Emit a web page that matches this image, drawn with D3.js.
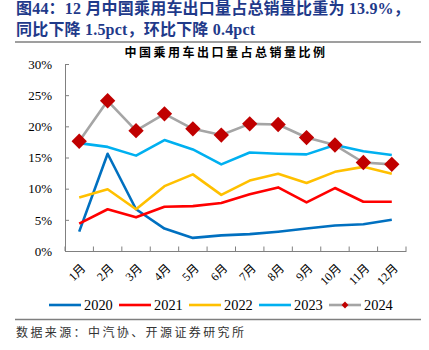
<!DOCTYPE html>
<html><head><meta charset="utf-8">
<script src="https://cdn.jsdelivr.net/npm/d3@7/dist/d3.min.js"></script>
<style>
html,body{margin:0;padding:0;background:#fff;}
svg{display:block;}
</style></head>
<body>
<svg id="c" width="429" height="350"></svg>
<script>
const months = ["1月","2月","3月","4月","5月","6月","7月","8月","9月","10月","11月","12月"];
const yTicks = [0,5,10,15,20,25,30];
const s2020 = [3.1,15.6,6.7,3.6,2.1,2.5,2.7,3.1,3.6,4.1,4.3,5.0];
const s2021 = [4.4,6.7,5.4,7.1,7.2,7.7,9.1,10.2,7.8,10.1,7.9,7.9];
const s2022 = [8.6,9.9,6.7,10.4,12.3,9.0,11.3,12.4,10.9,12.7,13.5,12.4];
const s2023 = [17.3,16.7,15.3,17.8,16.3,13.9,15.8,15.6,15.5,17.0,16.0,15.4];
const s2024 = [17.6,24.1,19.3,22.0,19.6,18.6,20.4,20.3,18.2,17.0,14.2,13.9];
const seriesNames = ["2020","2021","2022","2023","2024"];
const colors = ["#0070C0","#FF0000","#FFC000","#00B0F0","#A5A5A5"];
const markerColor = "#C00000";

const serif = "'Liberation Serif','Times New Roman','Noto Sans CJK SC',serif";
const svg = d3.select("#c");
const titleColor = "#1F3A8A";

// Title
svg.append("text").attr("x",16).attr("y",14).attr("fill",titleColor)
  .attr("font-family",serif).attr("font-weight","bold").attr("font-size",16)
  .attr("letter-spacing",0.2)
  .text("图44：12 月中国乘用车出口量占总销量比重为 13.9%，");
svg.append("text").attr("x",16).attr("y",35).attr("fill",titleColor)
  .attr("font-family",serif).attr("font-weight","bold").attr("font-size",16)
  .attr("letter-spacing",0.2)
  .text("同比下降 1.5pct，环比下降 0.4pct");
svg.append("line").attr("x1",15).attr("x2",421).attr("y1",42).attr("y2",42)
  .attr("stroke","#7f7f7f").attr("stroke-width",1.6);

// Chart title
svg.append("text").attr("x",226).attr("y",57).attr("text-anchor","middle")
  .attr("font-family",serif).attr("font-size",12).attr("font-weight","bold")
  .attr("letter-spacing",2.5).attr("fill","#000")
  .text("中国乘用车出口量占总销量比例");

const x = d3.scaleBand().domain(months).range([65,406]);
const y = d3.scaleLinear().domain([0,30]).range([251,64]);

// Y axis
const ya = svg.append("g").attr("transform","translate(65,0)")
  .call(d3.axisLeft(y).tickValues(yTicks).tickSize(-4).tickPadding(13).tickFormat(d=>d+"%"));
ya.select(".domain").attr("stroke","#808080");
ya.selectAll(".tick line").attr("stroke","#808080");
ya.selectAll(".tick text").attr("font-family",serif).attr("font-size",13).attr("fill","#000");

// X axis
const xa = svg.append("g").attr("transform","translate(0,251)")
  .call(d3.axisBottom(x).tickSize(0).tickFormat(""));
xa.select(".domain").attr("stroke","#808080");
const tickPos = months.map(m=>x(m)).concat([x.range()[1]]);
svg.append("g").selectAll("line").data(tickPos).join("line")
  .attr("x1",d=>d).attr("x2",d=>d).attr("y1",251).attr("y2",246.5)
  .attr("stroke","#808080");
svg.append("g").selectAll("text").data(months).join("text")
  .attr("transform",d=>`translate(${x(d)+x.bandwidth()/2+4},${266}) rotate(-45)`)
  .attr("text-anchor","end").attr("dy","0.35em")
  .attr("font-family",serif).attr("font-size",12).attr("fill","#000")
  .text(d=>d);

// Lines
const all = [s2020,s2021,s2022,s2023,s2024];
const line = d3.line().x((d,i)=>x(months[i])+x.bandwidth()/2).y(d=>y(d));
all.forEach((s,k)=>{
  svg.append("path").datum(s).attr("d",line).attr("fill","none")
    .attr("stroke",colors[k]).attr("stroke-width",2.6).attr("stroke-linejoin","round");
});
const diamond = d3.symbol().type(d3.symbolDiamond2).size(150);
svg.append("g").selectAll("path").data(s2024).join("path")
  .attr("d",diamond)
  .attr("transform",(d,i)=>`translate(${x(months[i])+x.bandwidth()/2},${y(d)})`)
  .attr("fill",markerColor);

// Legend
const legX = [49,119,189,259,329];
seriesNames.forEach((n,k)=>{
  const g = svg.append("g");
  g.append("line").attr("x1",legX[k]).attr("x2",legX[k]+32).attr("y1",305).attr("y2",305)
    .attr("stroke",colors[k]).attr("stroke-width",2.6);
  if(k===4){
    g.append("path").attr("d",d3.symbol().type(d3.symbolDiamond2).size(30))
      .attr("transform",`translate(${legX[k]+16},305)`).attr("fill",markerColor);
  }
  g.append("text").attr("x",legX[k]+35).attr("y",310).attr("font-family",serif)
    .attr("font-size",14.4).attr("fill","#000").text(n);
});

// Bottom line & source
svg.append("line").attr("x1",15).attr("x2",421).attr("y1",319.5).attr("y2",319.5)
  .attr("stroke","#7f7f7f").attr("stroke-width",1.6);
svg.append("text").attr("x",16).attr("y",337).attr("font-family",serif)
  .attr("font-size",12).attr("letter-spacing",2.4).attr("fill","#333")
  .text("数据来源：中汽协、开源证券研究所");
</script>
</body></html>
